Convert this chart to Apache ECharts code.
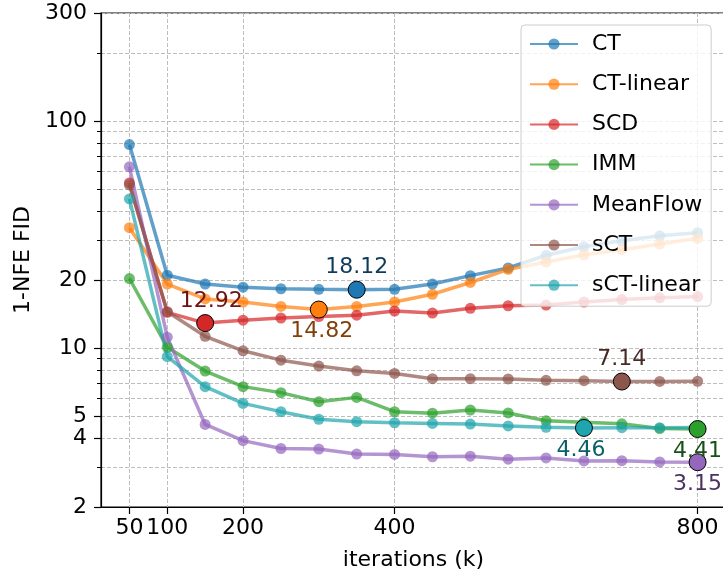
<!DOCTYPE html>
<html>
<head>
<meta charset="utf-8">
<title>1-NFE FID vs iterations</title>
<script src="https://cdn.jsdelivr.net/npm/echarts@6/dist/echarts.min.js"></script>
<style>
    html, body { margin: 0; padding: 0; background: #fff; }
    #chart { width: 723px; height: 576px; }
</style>
</head>
<body>
<div id="chart"></div>
<script>
// iterations (k)
var iters = [50, 100, 150, 200, 250, 300, 350, 400, 450, 500, 550, 600, 650, 700, 750, 800];

// 1-NFE FID per method
var ct        = [79, 21.0, 19.2, 18.6, 18.3, 18.2, 18.12, 18.2, 19.2, 20.9, 22.6, 25.7, 28.0, 29.8, 31.3, 32.3];
var ctLinear  = [34, 19.2, 16.5, 16.0, 15.3, 14.82, 15.3, 16.0, 17.3, 19.5, 22.3, 24.0, 25.8, 27.2, 28.8, 30.5];
var scd       = [53.5, 14.4, 12.92, 13.3, 13.6, 13.8, 14.0, 14.6, 14.3, 15.0, 15.4, 15.5, 16.0, 16.4, 16.7, 16.9];
var imm       = [20.3, 10.1, 7.94, 6.78, 6.38, 5.82, 6.08, 5.26, 5.18, 5.35, 5.19, 4.80, 4.72, 4.65, 4.43, 4.41];
var meanflow  = [63, 11.2, 4.62, 3.92, 3.62, 3.60, 3.42, 3.41, 3.33, 3.35, 3.25, 3.29, 3.19, 3.20, 3.16, 3.15];
var sct       = [52.5, 14.5, 11.3, 9.75, 8.87, 8.35, 7.96, 7.75, 7.35, 7.35, 7.33, 7.23, 7.20, 7.14, 7.15, 7.16];
var sctLinear = [45.5, 9.2, 6.78, 5.72, 5.26, 4.87, 4.75, 4.70, 4.67, 4.64, 4.55, 4.49, 4.46, 4.47, 4.47, 4.48];

// ticks
var xTicks = [50, 100, 200, 400, 800];
var yMajor = [2, 4, 5, 10, 20, 100, 300];
var yMinor = [3, 6, 7, 8, 9, 30, 40, 50, 60, 70, 80, 90, 200];

var methods = [
    { name: 'CT',         data: ct,        color: '#1f77b4', text: '#0f3b5a', pos: 'top',    dx: 0 },
    { name: 'CT-linear',  data: ctLinear,  color: '#ff7f0e', text: '#7f3f07', pos: 'bottom', dx: 3 },
    { name: 'SCD',        data: scd,       color: '#d62728', text: '#6b1314', pos: 'top',    dx: 6 },
    { name: 'IMM',        data: imm,       color: '#2ca02c', text: '#165016', pos: 'bottom', dx: 0 },
    { name: 'MeanFlow',   data: meanflow,  color: '#9467bd', text: '#4a335e', pos: 'bottom', dx: 0 },
    { name: 'sCT',        data: sct,       color: '#8c564b', text: '#462b25', pos: 'top',    dx: 0 },
    { name: 'sCT-linear', data: sctLinear, color: '#1fa5ad', text: '#0b5f67', pos: 'bottom', dx: -3 }
];

function lg(v) { return Math.log(v) / Math.LN10; }

var FONT = 'DejaVu Sans';
var FS = 22;
var gridLine = { show: true, lineStyle: { color: '#bdbdbd', width: 1, type: [4, 2] } };

var series = [];
methods.forEach(function (m) {
    series.push({
        name: m.name,
        type: 'line',
        data: iters.map(function (x, i) { return [x, lg(m.data[i])]; }),
        symbol: 'circle',
        symbolSize: 11,
        showAllSymbol: true,
        lineStyle: { color: m.color, width: 3.5, opacity: 0.7 },
        itemStyle: { color: m.color, opacity: 0.7 },
        emphasis: { disabled: true },
        z: 2
    });
});
methods.forEach(function (m) {
    var bi = 0;
    m.data.forEach(function (v, i) { if (v < m.data[bi]) bi = i; });
    series.push({
        name: m.name + '-best',
        type: 'scatter',
        data: [[iters[bi], lg(m.data[bi]), m.data[bi]]],
        symbol: 'circle',
        symbolSize: 17,
        itemStyle: { color: m.color, borderColor: '#000', borderWidth: 1, opacity: 1 },
        label: {
            show: true,
            position: m.pos,
            distance: 2,
            offset: [m.dx, 0],
            fontFamily: FONT,
            fontSize: FS,
            color: m.text,
            formatter: function (p) { return p.value[2].toFixed(2); }
        },
        emphasis: { disabled: true },
        z: 5
    });
});

var chart = echarts.init(document.getElementById('chart'), null, { renderer: 'canvas' });
chart.setOption({
    animation: false,
    grid: {
        left: 101, top: 13, width: 625, height: 494,
        outerBoundsMode: 'none',
        containLabel: false,
        show: true, borderColor: '#000', borderWidth: 1.2, backgroundColor: 'transparent'
    },
    legend: {
        data: methods.map(function (m) { return m.name; }),
        orient: 'vertical',
        left: 521,
        top: 25,
        itemWidth: 48,
        itemHeight: 14,
        itemGap: 18.2,
        padding: [8, 9, 10, 8],
        backgroundColor: 'rgba(255,255,255,0.8)',
        borderColor: '#cccccc',
        borderWidth: 1,
        borderRadius: 4,
        textStyle: { fontFamily: FONT, fontSize: FS, color: '#000', padding: [0, 0, 0, 9] }
    },
    xAxis: {
        type: 'value',
        min: 12.5,
        max: 837.5,
        name: 'iterations (k)',
        nameLocation: 'middle',
        nameGap: 42,
        nameTextStyle: { fontFamily: FONT, fontSize: FS, color: '#000' },
        axisLine: { lineStyle: { color: '#000', width: 1.2 } },
        axisTick: { show: true, length: 7, lineStyle: { color: '#000', width: 1.2 }, customValues: xTicks },
        axisLabel: { fontFamily: FONT, fontSize: FS, color: '#000', margin: 10, customValues: xTicks },
        splitLine: gridLine
    },
    yAxis: [{
        type: 'value',
        min: lg(2),
        max: lg(300),
        name: '1-NFE FID',
        nameLocation: 'middle',
        nameGap: 67,
        nameRotate: 90,
        nameTextStyle: { fontFamily: FONT, fontSize: FS, color: '#000' },
        axisLine: { show: true, lineStyle: { color: '#000', width: 1.2 } },
        axisTick: { show: true, length: 7, lineStyle: { color: '#000', width: 1.2 }, customValues: yMajor.map(lg) },
        axisLabel: {
            fontFamily: FONT, fontSize: FS, color: '#000', margin: 14,
            customValues: yMajor.map(lg),
            formatter: function (v) { return String(Math.round(Math.pow(10, v))); }
        },
        splitLine: gridLine
    }, {
        type: 'value',
        position: 'left',
        min: lg(2),
        max: lg(300),
        axisLine: { show: false },
        axisTick: { show: true, length: 4, lineStyle: { color: '#000', width: 1 }, customValues: yMinor.map(lg) },
        axisLabel: { show: false },
        splitLine: gridLine
    }],
    series: series
});
</script>
</body>
</html>
